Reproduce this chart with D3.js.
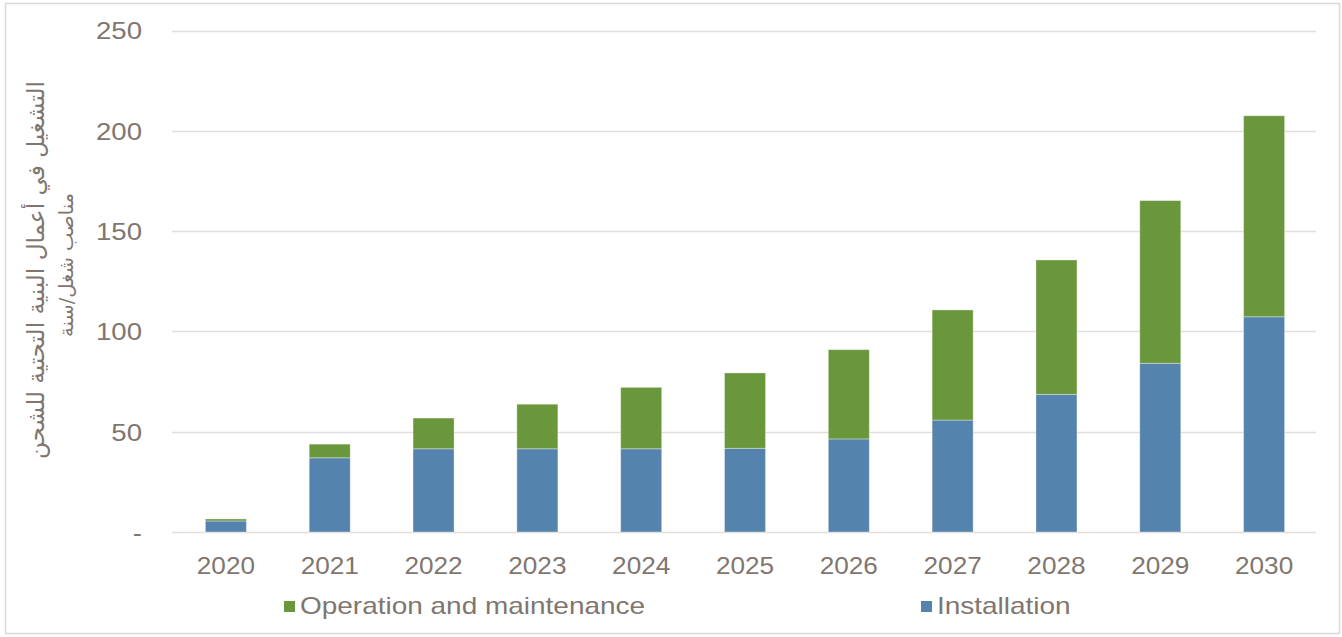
<!DOCTYPE html>
<html><head><meta charset="utf-8">
<script src="https://cdn.jsdelivr.net/npm/d3@7"></script>
<style>
html,body{margin:0;padding:0;background:#fff;}
svg text{font-family:"Liberation Sans",Arial,sans-serif;fill:#7f766f;}
</style></head>
<body><svg id="c" width="1342" height="637"></svg>
<script>
const years = ["2020","2021","2022","2023","2024","2025","2026","2027","2028","2029","2030"];
const installation = [5.5, 37, 41.5, 41.5, 41.5, 41.7, 46.4, 55.8, 68.6, 84.1, 107.3];
const operation = [1, 6.8, 15.3, 22.2, 30.6, 37.6, 44.5, 54.9, 67, 81.1, 100.2];
const yTicks = [0, 50, 100, 150, 200, 250];
const seriesNames = ["Operation and maintenance", "Installation"];
const yTitle1 = "التشغيل في أعمال البنية التحتية للشحن";
const yTitle2 = "مناصب شغل/سنة";

const colors = {"Installation":"#5483ad","Operation and maintenance":"#6a963c"};
const svg = d3.select("#c");

// border
svg.append("rect").attr("x",5.5).attr("y",3.5).attr("width",1334).attr("height",630)
  .attr("fill","none").attr("stroke","#dcd8d5").attr("stroke-width",1.5);

const x = d3.scaleBand().domain(years).range([174,1316]).padding(0);
const y = d3.scaleLinear().domain([0,250]).range([532,30.5]);
const barW = x.bandwidth()*0.395;

function stretch(sel, f){
  sel.each(function(){ const L=this.getComputedTextLength(); d3.select(this).attr("textLength",L*f).attr("lengthAdjust","spacingAndGlyphs"); });
}

// gridlines
svg.append("g").selectAll("line").data(yTicks).join("line")
  .attr("x1",172).attr("x2",1316).attr("y1",d=>Math.round(y(d))+0.5).attr("y2",d=>Math.round(y(d))+0.5)
  .attr("stroke","#e2dedb").attr("stroke-width",1.5);

// y axis labels
const yAxis = d3.axisLeft(y).tickValues(yTicks).tickSize(0).tickPadding(0)
  .tickFormat(d=> d===0 ? "-" : d3.format("d")(d));
const gy = svg.append("g").attr("transform","translate(142,0)").call(yAxis);
gy.select(".domain").remove();
gy.selectAll("text").style("font-size","24px").attr("dy","0.35em").attr("fill","#7f766f");
stretch(gy.selectAll("text"), 1.15);

// x axis labels
const xAxis = d3.axisBottom(x).tickSize(0).tickPadding(0);
const gx = svg.append("g").attr("transform","translate(0,574)").call(xAxis);
gx.select(".domain").remove();
gx.selectAll("text").style("font-size","24px").attr("dy",0).attr("y",0).attr("fill","#7f766f");
stretch(gx.selectAll("text"), 1.09);

// stacked bars
const rows = years.map((yr,i)=>({year:yr,"Installation":installation[i],"Operation and maintenance":operation[i]}));
const stack = d3.stack().keys(["Installation","Operation and maintenance"])(rows);
svg.append("g").selectAll("g").data(stack).join("g")
  .attr("fill",d=>colors[d.key])
  .selectAll("rect").data(d=>d).join("rect")
  .attr("x",d=>x(d.data.year)+x.bandwidth()/2-barW/2)
  .attr("width",barW)
  .attr("y",d=>y(d[1]))
  .attr("height",d=>y(d[0])-y(d[1]))
  .attr("stroke","#ffffff").attr("stroke-opacity",0.35).attr("stroke-width",1);

// legend
const legX = [284, 921];
const leg = svg.append("g").selectAll("g").data(seriesNames).join("g")
  .attr("transform",(d,i)=>`translate(${legX[i]},600)`);
leg.append("rect").attr("width",11).attr("height",11).attr("y",1).attr("fill",d=>colors[d]);
leg.append("text").attr("x",16).attr("y",14).style("font-size","24px").text(d=>d);
stretch(leg.selectAll("text"), 1.165);

// y title (rotated)
function fitTitle(txt, cx, cy, target){
  const t = svg.append("text").attr("transform",`translate(${cx},${cy}) rotate(-90)`)
    .attr("text-anchor","middle").attr("dy","0.35em")
    .style("font-family","'DejaVu Sans',sans-serif").style("font-size","20px").attr("direction","rtl").text(txt);
  const L = t.node().getBBox().width;
  t.style("font-size",(20*target/L).toFixed(2)+"px");
}
fitTitle(yTitle1, 36, 270, 378);
fitTitle(yTitle2, 66, 265, 144);
</script></body></html>
